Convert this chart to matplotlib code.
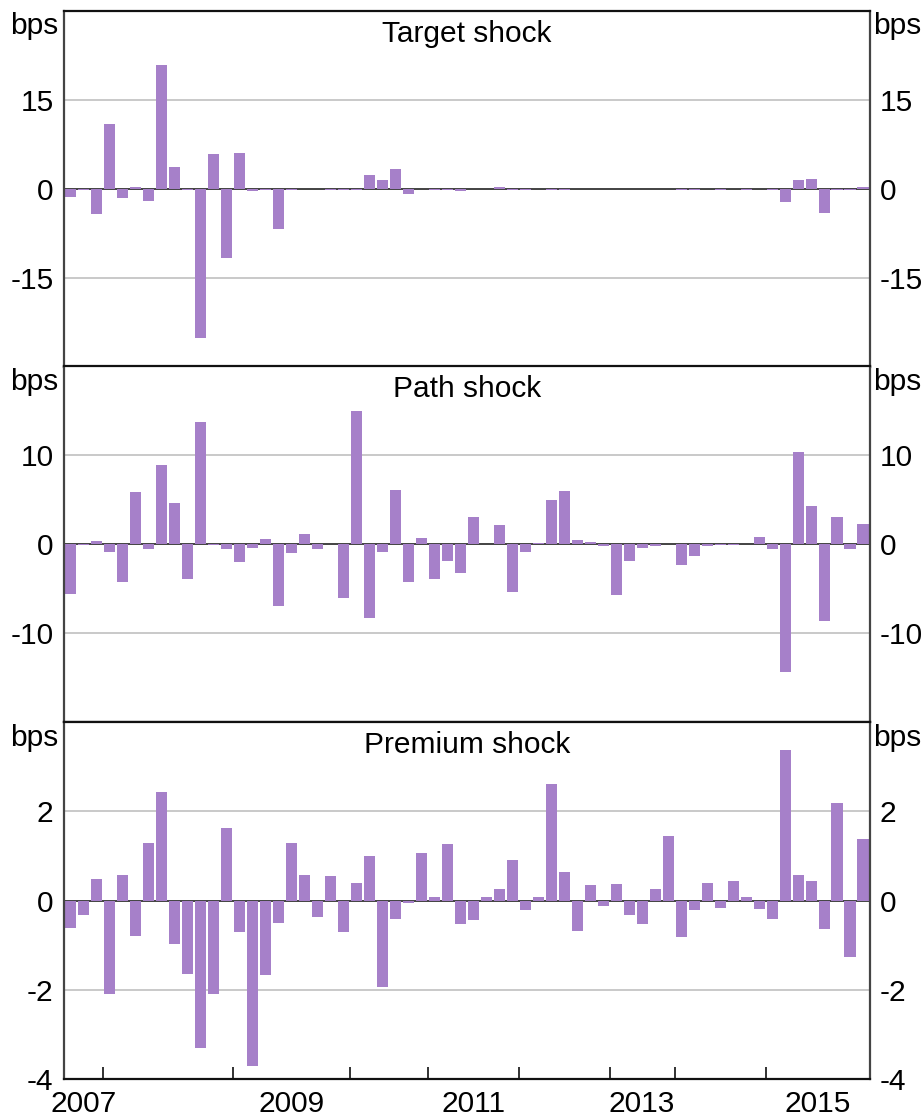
import matplotlib
matplotlib.use("Agg")
import matplotlib.pyplot as plt
import numpy as np

plt.rcParams['font.family'] = ['Liberation Sans', 'DejaVu Sans']

# shocks per FOMC meeting, bps
target_shock = [
    -1.35, -0.25, -4.2, 10.9, -1.5, 0.3, -2.1, 20.8, 3.65, -0.25,
    -25.1, 5.85, -11.6, 6.0, -0.35, -0.25, -6.7, -0.25, 0.0, 0.0,
    -0.25, -0.25, -0.25, 2.3, 1.46, 3.3, -0.85, 0.0, -0.25, -0.25,
    -0.3, 0.0, 0.0, 0.3, -0.25, -0.25, 0.0, -0.25, -0.25, 0.0,
    0.0, 0.0, 0.0, 0.0, 0.0, 0.0, 0.0, -0.25, -0.25, 0.0,
    -0.25, 0.0, -0.25, 0.0, -0.25, -2.2, 1.46, 1.63, -4.0, -0.25,
    -0.25, 0.3,
]
path_shock = [
    -5.56, -0.05, 0.38, -0.83, -4.2, 5.9, -0.6, 8.83, 4.66, -3.87,
    13.7, -0.15, -0.5, -1.95, -0.4, 0.6, -6.9, -0.94, 1.17, -0.5,
    0.0, -6.1, 15.0, -8.27, -0.83, 6.13, -4.3, 0.71, -3.87, -1.84,
    -3.2, 3.08, 0.0, 2.18, -5.34, -0.83, 0.15, 5.0, 6.0, 0.49,
    0.2, -0.26, -5.68, -1.84, -0.38, -0.26, 0.0, -2.3, -1.28, -0.26,
    -0.15, -0.15, 0.0, 0.83, -0.49, -14.4, 10.3, 4.32, -8.6, 3.08,
    -0.49, 2.29,
]
premium_shock = [
    -0.62, -0.33, 0.49, -2.1, 0.58, -0.80, 1.30, 2.43, -0.98, -1.66,
    -3.30, -2.1, 1.62, -0.71, -3.72, -1.68, -0.51, 1.30, 0.58, -0.37,
    0.54, -0.71, 0.40, 1.01, -1.93, -0.42, -0.06, 1.06, 0.09, 1.28,
    -0.53, -0.44, 0.09, 0.27, 0.92, -0.22, 0.09, 2.61, 0.65, -0.69,
    0.36, -0.13, 0.38, -0.33, -0.53, 0.25, 1.44, -0.82, -0.22, 0.40,
    -0.17, 0.43, 0.07, -0.19, -0.42, 3.37, 0.58, 0.43, -0.64, 2.20,
    -1.27, 1.39,
]

# index of first meeting in each year
year_starts = [0, 3, 13, 22, 28, 35, 42, 47, 54]
years = ['2007', '2008', '2009', '2010', '2011', '2012', '2013', '2014', '2015']
shown_years = ['2007', '2009', '2011', '2013', '2015']

panels = [
    ("Target shock", target_shock, 30, [-15, 0, 15]),
    ("Path shock", path_shock, 20, [-10, 0, 10]),
    ("Premium shock", premium_shock, 4, [-4, -2, 0, 2]),
]

bar_color = '#a680c9'
grid_color = '#c0c0c0'
spine_color = '#444444'
fs = 21.5

fig = plt.figure(figsize=(9.24, 11.18), dpi=100)
left, width = 64 / 924, 805.5 / 924
h = 356.3 / 1118
bottoms = [1 - 367 / 1118, 1 - 722.3 / 1118, 1 - 1078.7 / 1118]

n = len(premium_shock)
x = np.arange(n)

for k, (title, vals, lim, ticks) in enumerate(panels):
    ax = fig.add_axes([left, bottoms[k], width, h])
    ax.set_xlim(-0.5, n - 0.5)
    ax.set_ylim(-lim, lim)
    for t in ticks:
        if t != 0 and abs(t) != lim:
            ax.axhline(t, color=grid_color, lw=1.2, zorder=0)
    ax.axhline(0, color='#222222', lw=1.2, zorder=1)
    ax.bar(x, vals, width=0.85, color=bar_color, zorder=2)

    ax.set_yticks(ticks)
    ax.set_yticklabels([str(t) for t in ticks])
    ax.tick_params(axis='y', left=False, right=False, labelleft=True,
                   labelright=True, labelsize=fs, pad=4)

    for side in ['left', 'right']:
        ax.spines[side].set_color(spine_color)
        ax.spines[side].set_linewidth(1.6)
    ax.spines['top'].set_color('#111111')
    ax.spines['top'].set_linewidth(1.6)
    ax.spines['bottom'].set_color('#111111')
    ax.spines['bottom'].set_linewidth(1.6)

    ax.text(0.5, 0.975, title, transform=ax.transAxes, ha='center', va='top',
            fontsize=fs)
    ax.text(-0.007, 0.995, 'bps', transform=ax.transAxes, ha='right',
            va='top', fontsize=fs)
    ax.text(1.004, 0.995, 'bps', transform=ax.transAxes, ha='left',
            va='top', fontsize=fs)

    if k < 2:
        ax.set_xticks([])
    else:
        bounds = [s - 0.5 for s in year_starts[1:]]
        ax.set_xticks(bounds)
        ax.set_xticklabels([])
        ax.tick_params(axis='x', which='major', direction='in', length=8.5,
                       width=1.3, color='#222222')
        ends = year_starts[1:] + [n]
        centers = [(s + e) / 2 - 0.5 for s, e in zip(year_starts, ends)]
        mids = [c for c, y in zip(centers, years) if y in shown_years]
        ax.set_xticks(mids, minor=True)
        ax.set_xticklabels(shown_years, minor=True)
        ax.tick_params(axis='x', which='minor', length=0, labelsize=fs, pad=8)

fig.savefig('out.png', dpi=100)
